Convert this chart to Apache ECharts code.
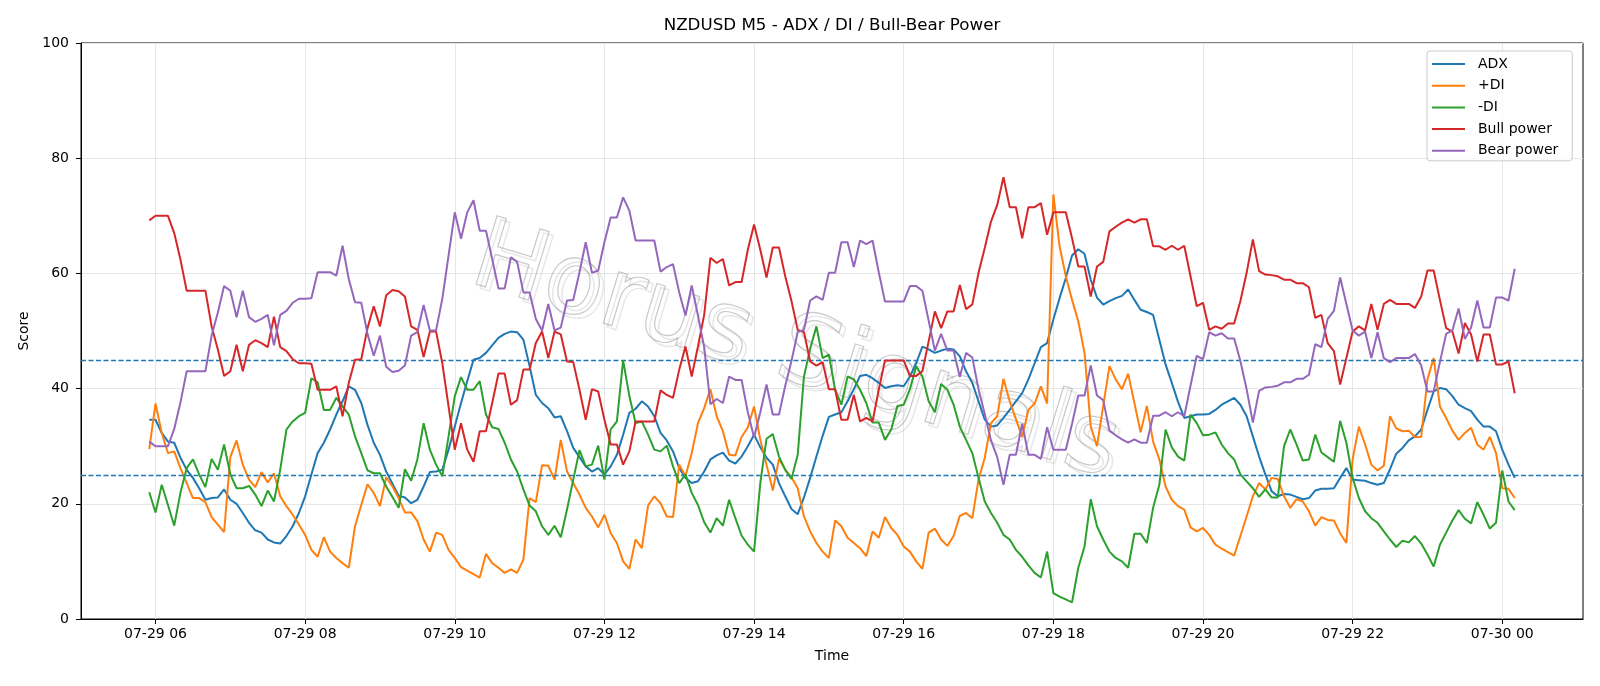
<!DOCTYPE html>
<html>
<head>
<meta charset="utf-8">
<script src="https://cdn.jsdelivr.net/npm/echarts@6/dist/echarts.min.js"></script>
<style>
html,body{margin:0;padding:0;background:#fff;}
#chart{width:1600px;height:686px;}
</style>
</head>
<body>
<div id="chart"></div>
<script>
// ---- data (5-minute bars, first bar 07-29 05:55) ----
const startMinute = 355;   // minutes after 07-29 00:00
const stepMinutes = 5;
const xTickMinutes = [360, 480, 600, 720, 840, 960, 1080, 1200, 1320, 1440];
const yTicks = [0, 20, 40, 60, 80, 100];
const seriesNames = ['ADX', '+DI', '-DI', 'Bull power', 'Bear power'];
const thresholds = [25, 45];

const adx = [34.6,34.6,32.3,30.8,30.6,28.0,25.9,24.5,22.7,20.7,
 21.0,21.1,22.5,20.7,20.0,18.4,16.7,15.4,15.0,13.8,
 13.3,13.1,14.4,16.1,18.4,21.3,25.1,28.8,30.6,32.9,
 35.5,37.8,40.4,39.8,37.5,33.7,30.6,28.5,25.6,23.5,
 21.4,21.1,20.1,20.7,23.0,25.5,25.6,25.9,29.4,33.4,
 37.5,41.3,45.0,45.3,46.2,47.5,48.8,49.5,49.9,49.8,
 48.5,43.9,38.9,37.5,36.6,35.0,35.2,32.6,29.7,28.1,
 26.5,25.6,26.2,25.1,26.5,28.5,32.0,35.8,36.5,37.8,
 36.9,35.2,32.3,31.0,29.1,26.2,24.5,23.6,23.9,25.6,
 27.7,28.4,28.9,27.5,27.0,28.2,30.0,32.0,29.8,28.0,
 26.8,23.6,21.3,19.1,18.2,21.1,24.5,28.2,31.8,35.1,
 35.5,35.9,37.8,39.9,42.2,42.4,41.8,41.0,40.1,40.4,
 40.6,40.4,42.1,44.4,47.3,46.8,46.2,46.6,46.9,46.8,
 45.6,43.0,41.0,37.8,34.6,33.4,33.6,34.9,36.3,37.8,
 39.2,41.6,44.4,47.2,47.9,52.0,55.7,59.2,63.1,64.2,
 63.4,58.9,55.8,54.6,55.2,55.7,56.1,57.2,55.4,53.7,
 53.3,52.8,48.5,44.2,41.0,37.7,34.9,35.2,35.5,35.5,
 35.6,36.3,37.2,37.8,38.4,37.2,35.2,31.7,28.2,25.1,
 22.2,21.3,21.7,21.6,21.2,20.8,21.0,22.3,22.6,22.6,
 22.7,24.5,26.2,24.2,24.1,24.0,23.6,23.3,23.6,26.0,
 28.7,29.7,31.0,31.7,32.9,36.3,39.5,40.1,39.9,38.7,
 37.2,36.6,36.1,34.6,33.4,33.4,32.6,29.4,26.8,24.5];

const plusDI = [29.5,37.4,32.3,28.8,29.1,26.2,23.6,21.0,21.0,20.3,
 17.7,16.4,15.1,28.1,31.0,26.8,24.2,22.9,25.5,23.7,
 25.3,21.3,19.6,18.1,16.4,14.6,12.0,10.8,14.2,11.7,
 10.6,9.7,8.9,16.1,19.8,23.4,21.9,19.6,24.6,23.0,
 21.0,18.5,18.5,17.0,13.8,11.7,15.0,14.6,12.0,10.6,
 9.0,8.4,7.8,7.2,11.3,9.7,8.9,8.0,8.6,8.0,
 10.3,21.0,20.3,26.7,26.6,24.2,31.1,25.6,23.6,21.6,
 19.3,17.8,15.9,18.1,14.9,13.2,10.0,8.7,13.8,12.3,
 19.7,21.3,20.1,17.8,17.7,26.8,24.8,28.8,34.0,36.6,
 39.9,35.2,32.6,28.5,28.4,31.6,33.3,36.9,31.1,26.8,
 22.3,27.8,25.9,24.6,22.7,17.8,15.2,13.2,11.7,10.6,
 17.1,16.1,14.1,13.2,12.3,10.9,15.2,14.1,17.7,15.8,
 14.6,12.6,11.7,10.0,8.7,15.0,15.7,13.8,12.7,14.4,
 17.9,18.4,17.5,24.2,28.0,34.0,35.2,41.7,37.8,34.7,
 31.6,36.3,37.4,40.4,37.4,73.7,64.7,59.5,55.4,51.7,
 46.2,33.4,30.0,37.0,43.9,41.6,39.9,42.6,37.5,32.4,
 37.0,30.8,27.7,23.0,20.7,19.6,19.0,15.9,15.2,15.8,
 14.6,12.9,12.2,11.6,11.0,14.4,17.8,21.3,23.6,22.5,
 24.5,24.3,21.3,19.3,20.8,20.4,18.7,16.2,17.7,17.2,
 17.1,14.9,13.2,27.7,33.4,30.3,26.8,25.8,26.6,35.2,
 33.1,32.6,32.7,31.6,31.6,41.6,45.3,36.9,34.9,32.7,
 31.1,32.3,33.2,30.3,29.4,31.6,28.8,22.7,22.6,21.0];

const minusDI = [22.0,18.5,23.3,19.8,16.2,21.9,26.2,27.7,25.1,22.9,
 27.8,25.9,30.3,25.1,22.7,22.7,23.1,21.6,19.6,22.3,
 20.4,25.9,32.9,34.3,35.2,35.8,41.8,41.1,36.3,36.3,
 38.4,36.9,35.5,31.7,28.8,25.8,25.3,25.3,23.0,21.2,
 19.3,26.0,24.0,27.7,34.0,29.4,26.8,24.8,31.7,38.7,
 42.0,39.8,39.8,41.3,35.5,33.3,33.0,30.6,27.7,25.6,
 22.5,19.7,18.7,16.1,14.6,16.2,14.2,19.0,24.2,29.3,
 26.5,26.8,30.1,24.2,32.9,34.3,44.9,38.7,34.0,34.3,
 32.0,29.4,29.1,30.1,26.5,23.6,25.1,21.9,19.8,16.8,
 15.0,17.5,16.2,20.7,17.5,14.5,12.9,11.7,23.6,31.3,
 32.1,28.2,25.9,24.3,28.5,42.1,46.9,50.8,45.3,45.9,
 39.8,37.2,42.1,41.6,39.8,37.5,34.1,34.1,31.1,32.9,
 37.0,37.2,39.9,43.9,42.1,37.8,35.9,40.8,39.8,37.2,
 33.4,31.1,28.8,24.5,20.4,18.4,16.7,14.6,13.8,12.0,
 10.8,9.3,8.0,7.2,11.7,4.5,3.9,3.4,2.9,8.9,
 12.6,20.8,16.1,13.8,11.7,10.6,10.0,8.9,14.8,14.8,
 13.2,19.3,23.3,32.9,29.8,28.2,27.5,35.5,34.0,31.9,
 32.0,32.4,30.3,28.8,27.7,25.1,23.9,22.7,21.2,22.5,
 21.1,21.1,30.0,32.9,30.3,27.5,27.7,32.0,28.9,28.1,
 27.3,34.4,30.6,24.5,21.0,18.7,17.5,16.7,15.2,13.8,
 12.5,13.6,13.3,14.4,13.1,11.2,9.1,12.9,15.0,17.1,
 18.9,17.4,16.6,20.3,18.1,15.7,16.7,25.8,20.4,18.9];

const bullPower = [69.2,70.0,70.0,70.0,67.0,62.4,57.0,57.0,57.0,57.0,
 50.8,46.8,42.2,43.0,47.6,43.0,47.6,48.4,47.9,47.2,
 52.5,47.2,46.5,45.1,44.4,44.4,44.3,39.8,39.8,39.8,
 40.4,35.2,41.0,45.0,45.1,50.5,54.3,50.8,56.2,57.1,
 56.9,56.0,50.8,50.2,45.5,49.9,49.9,44.4,36.9,29.4,
 34.0,29.4,27.3,32.6,32.6,37.5,42.6,42.6,37.2,38.0,
 43.3,43.3,47.9,49.9,45.3,49.9,49.4,44.7,44.6,39.8,
 34.6,39.9,39.5,34.6,30.3,30.3,26.8,29.1,34.3,34.3,
 34.3,34.3,39.7,38.9,38.4,43.3,47.3,42.1,47.3,52.8,
 62.7,61.8,62.5,57.9,58.5,58.5,64.1,68.5,64.1,59.3,
 64.5,64.5,59.5,55.2,50.2,49.8,44.7,44.0,44.6,39.9,
 39.9,34.6,34.6,38.9,34.3,34.9,34.3,39.8,44.9,44.9,
 44.9,44.9,42.2,42.2,43.0,48.2,53.4,50.5,53.4,53.4,
 58.0,53.8,54.6,60.1,64.4,69.0,71.9,76.7,71.5,71.5,
 66.1,71.5,71.5,72.2,66.7,70.6,70.6,70.6,66.1,61.2,
 61.2,56.0,61.2,62.0,67.3,68.1,68.8,69.4,68.8,69.4,
 69.4,64.7,64.7,64.1,64.8,64.1,64.8,59.5,54.3,54.9,
 50.2,50.8,50.4,51.3,51.3,55.2,60.1,65.9,60.4,59.8,
 59.7,59.5,58.9,58.9,58.3,58.3,57.6,52.3,52.8,47.9,
 46.5,40.7,45.3,49.9,50.8,50.1,54.7,50.2,54.7,55.4,
 54.7,54.7,54.7,54.0,56.0,60.5,60.5,55.4,50.5,49.9,
 46.1,51.4,49.4,44.7,49.4,49.4,44.2,44.2,44.7,39.2];

const bearPower = [30.8,30.0,30.0,30.0,33.0,37.6,43.0,43.0,43.0,43.0,
 49.2,53.2,57.8,57.0,52.4,57.0,52.4,51.6,52.1,52.8,
 47.5,52.8,53.5,54.9,55.6,55.6,55.7,60.2,60.2,60.2,
 59.6,64.8,59.0,55.0,54.9,49.5,45.7,49.2,43.8,42.9,
 43.1,44.0,49.2,49.8,54.5,50.1,50.1,55.6,63.1,70.6,
 66.0,70.6,72.7,67.4,67.4,62.5,57.4,57.4,62.8,62.0,
 56.7,56.7,52.1,50.1,54.7,50.1,50.6,55.3,55.4,60.2,
 65.4,60.1,60.5,65.4,69.7,69.7,73.2,70.9,65.7,65.7,
 65.7,65.7,60.3,61.1,61.6,56.7,52.7,57.9,52.7,47.2,
 37.3,38.2,37.5,42.1,41.5,41.5,35.9,31.5,35.9,40.7,
 35.5,35.5,40.5,44.8,49.8,50.2,55.3,56.0,55.4,60.1,
 60.1,65.4,65.4,61.1,65.7,65.1,65.7,60.2,55.1,55.1,
 55.1,55.1,57.8,57.8,57.0,51.8,46.6,49.5,46.6,46.6,
 42.0,46.2,45.4,39.9,35.6,31.0,28.1,23.3,28.5,28.5,
 33.9,28.5,28.5,27.8,33.3,29.4,29.4,29.4,33.9,38.8,
 38.8,44.0,38.8,38.0,32.7,31.9,31.2,30.6,31.2,30.6,
 30.6,35.3,35.3,35.9,35.2,35.9,35.2,40.5,45.7,45.1,
 49.8,49.2,49.6,48.7,48.7,44.8,39.9,34.1,39.6,40.2,
 40.3,40.5,41.1,41.1,41.7,41.7,42.4,47.7,47.2,52.1,
 53.5,59.3,54.7,50.1,49.2,49.9,45.3,49.8,45.3,44.6,
 45.3,45.3,45.3,46.0,44.0,39.5,39.5,44.6,49.5,50.1,
 53.9,48.6,50.6,55.3,50.6,50.6,55.8,55.8,55.3,60.8];

// ---- chart ----
const FONT = 'DejaVu Sans';
const colors = ['#1f77b4', '#ff7f0e', '#2ca02c', '#d62728', '#9467bd'];
const allValues = [adx, plusDI, minusDI, bullPower, bearPower];
const xMin = startMinute - 54.75;
const xMax = startMinute + stepMinutes * (adx.length - 1) + 54.75;

function fmtTick(v) {
  const day = v >= 1440 ? '07-30' : '07-29';
  const h = Math.round((v % 1440) / 60);
  return day + ' ' + String(h).padStart(2, '0');
}

const series = allValues.map((vals, k) => ({
  name: seriesNames[k],
  type: 'line',
  data: vals.map((v, i) => [startMinute + stepMinutes * i, v]),
  showSymbol: false,
  symbol: 'none',
  lineStyle: { color: colors[k], width: 2 },
  itemStyle: { color: colors[k] },
  animation: false,
  z: 3 + k
}));
series[4].markLine = {
  silent: true,
  symbol: 'none',
  label: { show: false },
  animation: false,
  lineStyle: { color: '#1f77b4', type: [5, 2.5], width: 1.4 },
  data: thresholds.map(t => ({ yAxis: t }))
};

const wmStyle = { text: 'Horus Signals', fontFamily: FONT, fontSize: 98, align: 'center', verticalAlign: 'middle' };

const chart = echarts.init(document.getElementById('chart'), null, { renderer: 'canvas' });
chart.setOption({
  backgroundColor: '#ffffff',
  animation: false,
  textStyle: { fontFamily: FONT },
  grid: {
    left: 81, right: 17, top: 43, bottom: 67,
    show: true, borderColor: '#000', borderWidth: 1, backgroundColor: 'transparent'
  },
  xAxis: {
    type: 'value',
    min: xMin, max: xMax,
    name: 'Time',
    nameLocation: 'middle',
    nameGap: 30,
    nameTextStyle: { fontFamily: FONT, fontSize: 14, color: '#000' },
    axisLine: { show: true, onZero: false, lineStyle: { color: '#000', width: 1 } },
    axisTick: { show: true, inside: false, length: 5, customValues: xTickMinutes, lineStyle: { color: '#000', width: 1 } },
    axisLabel: { customValues: xTickMinutes, formatter: fmtTick, fontFamily: FONT, fontSize: 14, color: '#000', margin: 8 },
    splitLine: { show: true, lineStyle: { color: '#e6e6e6', width: 1 } }
  },
  yAxis: {
    type: 'value',
    min: 0, max: 100, interval: 20,
    name: 'Score',
    nameLocation: 'middle',
    nameGap: 48,
    nameRotate: 90,
    nameTextStyle: { fontFamily: FONT, fontSize: 14, color: '#000' },
    axisLine: { show: true, lineStyle: { color: '#000', width: 1 } },
    axisTick: { show: true, inside: false, length: 5, lineStyle: { color: '#000', width: 1 } },
    axisLabel: { fontFamily: FONT, fontSize: 14, color: '#000', margin: 12 },
    splitLine: { show: true, lineStyle: { color: '#e6e6e6', width: 1 } }
  },
  legend: {
    orient: 'vertical',
    left: 1427, top: 51,
    padding: [6, 14, 3, 5],
    itemGap: 7.7,
    itemWidth: 33,
    itemHeight: 2,
    icon: 'rect',
    backgroundColor: 'rgba(255,255,255,0.8)',
    borderColor: '#cccccc',
    borderWidth: 1,
    borderRadius: 3,
    textStyle: { fontFamily: FONT, fontSize: 14, color: '#000', padding: [0, 0, 0, 8] },
    data: seriesNames
  },
  graphic: [
    {
      type: 'text', x: 799, y: 359, rotation: -17 * Math.PI / 180, z: 1, silent: true,
      style: Object.assign({}, wmStyle, { fill: 'rgba(0,0,0,0)', stroke: 'rgba(200,200,200,0.45)', lineWidth: 1.4 })
    },
    {
      type: 'text', x: 795, y: 355, rotation: -17 * Math.PI / 180, z: 1, silent: true,
      style: Object.assign({}, wmStyle, { fill: 'rgba(0,0,0,0)', stroke: 'rgba(150,150,150,0.5)', lineWidth: 1.2 })
    },
    {
      type: 'text', x: 832, y: 26, z: 10, silent: true,
      style: { text: 'NZDUSD M5 - ADX / DI / Bull-Bear Power', fontFamily: FONT, fontSize: 16.7,
        fill: '#000', align: 'center', verticalAlign: 'middle' }
    }
  ],
  series: series
});
</script>
</body>
</html>
